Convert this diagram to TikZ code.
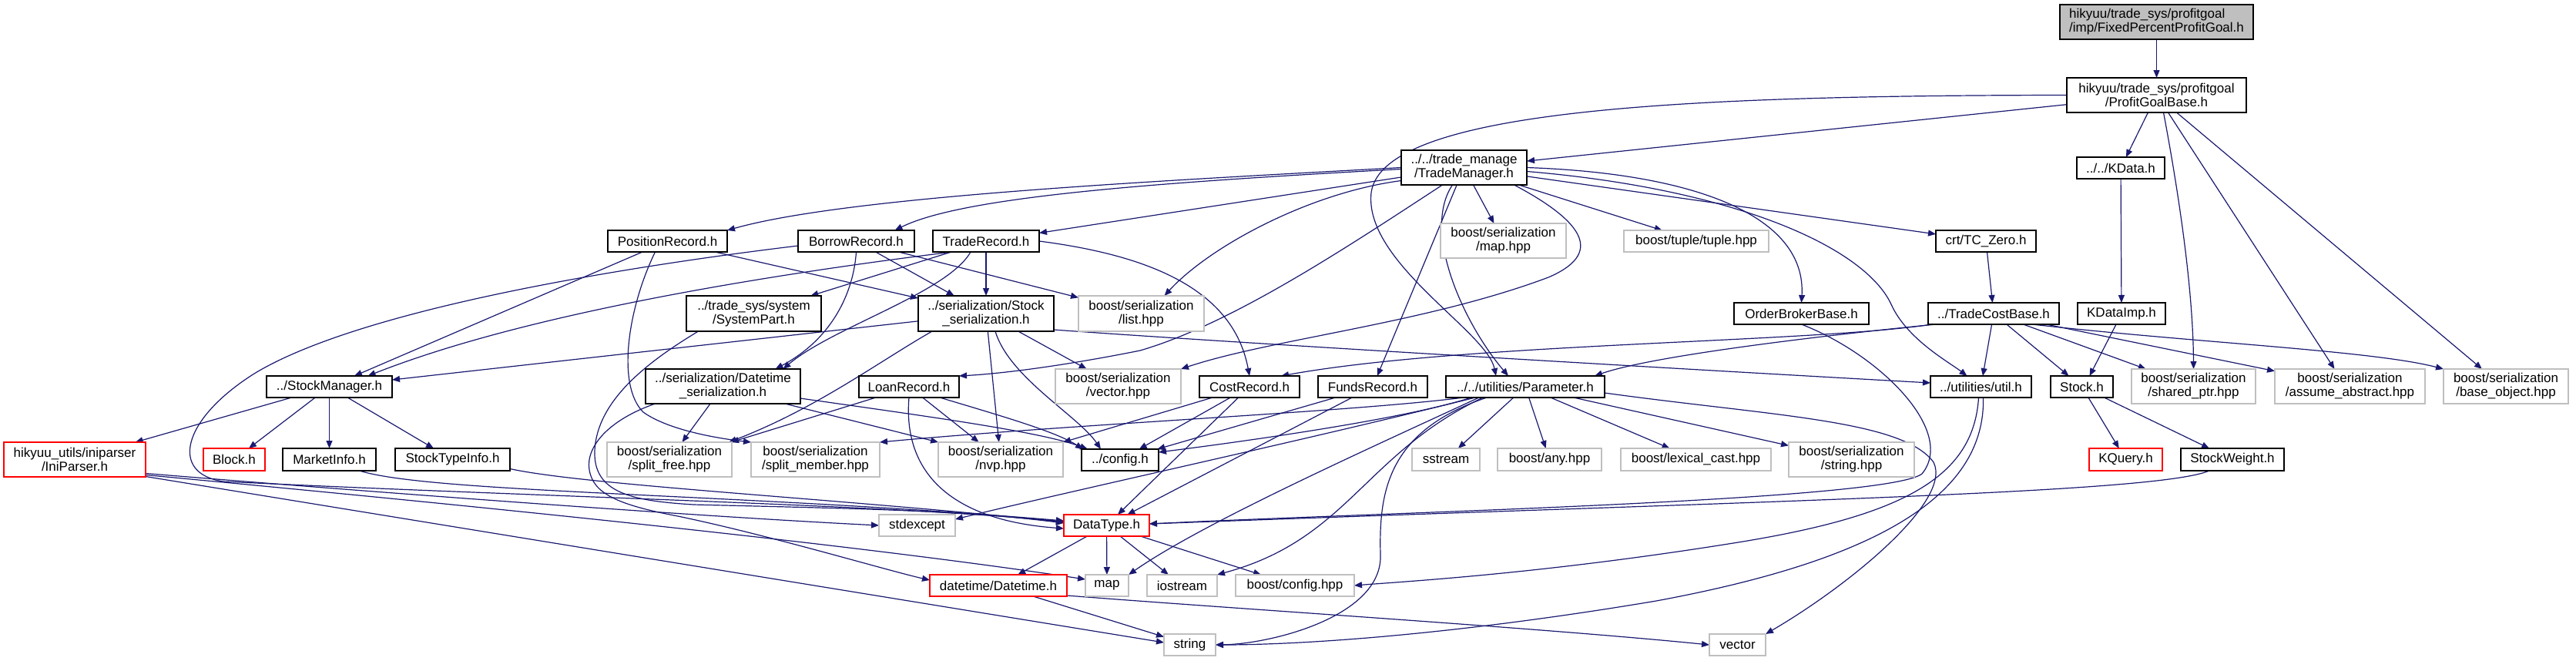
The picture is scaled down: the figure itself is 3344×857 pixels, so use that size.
\documentclass[tikz,border=0pt]{standalone}
\usepackage{fontspec}
\setmainfont{Liberation Sans}
\usetikzlibrary{arrows.meta}
\definecolor{edgec}{HTML}{191970}
\definecolor{grayb}{HTML}{BFBFBF}
\pgfdeclarelayer{bg}
\pgfsetlayers{bg,main}
\tikzset{
  sz/.style 2 args={minimum width=#1pt, minimum height=#2pt},
  base/.style={rectangle, inner sep=0pt, outer sep=0pt, font=\fontsize{17}{18}\selectfont, align=center, fill=white},
  nb/.style={base, draw=black, line width=1.3pt},
  gb/.style={base, draw=grayb, line width=1.1pt},
  rb/.style={base, draw=red, line width=1.1pt},
  edg/.style={draw=edgec, line width=1.2pt, -{Triangle[length=10pt,width=8pt]}},
}
\begin{document}
\begin{tikzpicture}[x=1pt,y=-1pt]
\useasboundingbox (0,0) rectangle (3344,857);
% ---------- nodes ----------
\node[nb, fill=grayb, align=left, sz={251}{45}] (root) at (2799.5,28.5) {hikyuu/trade\_sys/profitgoal\\/imp/FixedPercentProfitGoal.h};
\node[nb, sz={233}{45}] (pgb) at (2799.5,123.5) {hikyuu/trade\_sys/profitgoal\\/ProfitGoalBase.h};
\node[nb, sz={114}{28}] (kdata) at (2753,218) {../../KData.h};
\node[nb, sz={130}{28}] (tczero) at (2578,313) {crt/TC\_Zero.h};
\node[nb, sz={170}{28}] (tcb) at (2588,407) {../TradeCostBase.h};
\node[nb, sz={114}{28}] (kdataimp) at (2754,407) {KDataImp.h};
\node[nb, sz={163}{45}] (tm) at (1900.5,217.5) {../../trade\_manage\\/TradeManager.h};
\node[gb, sz={163}{45}] (maphpp) at (1951.5,312.5) {boost/serialization\\/map.hpp};
\node[gb, sz={188}{28}] (tuple) at (2202,313) {boost/tuple/tuple.hpp};
\node[nb, sz={175}{28}] (obb) at (2338.5,407) {OrderBrokerBase.h};
\node[nb, sz={155}{28}] (posrec) at (866.5,313) {PositionRecord.h};
\node[nb, sz={151}{28}] (borrow) at (1111.5,313) {BorrowRecord.h};
\node[nb, sz={138}{28}] (traderec) at (1280,313) {TradeRecord.h};
\node[nb, sz={175}{46}] (syspart) at (978.5,407) {../trade\_sys/system\\/SystemPart.h};
\node[nb, sz={176}{46}] (stockser) at (1280,407) {../serialization/Stock\\\_serialization.h};
\node[gb, sz={163}{46}] (listhpp) at (1481.5,407) {boost/serialization\\/list.hpp};
\node[nb, sz={163}{28}] (stockmgr) at (427.5,502) {../StockManager.h};
\node[nb, sz={201}{45}] (dtser) at (938.5,501.5) {../serialization/Datetime\\\_serialization.h};
\node[nb, sz={130}{28}] (loan) at (1180,502) {LoanRecord.h};
\node[gb, sz={163}{45}] (vechpp) at (1451.5,501.5) {boost/serialization\\/vector.hpp};
\node[nb, sz={130}{28}] (cost) at (1622,502) {CostRecord.h};
\node[nb, sz={142}{28}] (funds) at (1782,502) {FundsRecord.h};
\node[nb, sz={206}{28}] (param) at (1980,502) {../../utilities/Parameter.h};
\node[nb, sz={131}{28}] (util) at (2571.5,502) {../utilities/util.h};
\node[nb, sz={81}{28}] (stock) at (2702.5,502) {Stock.h};
\node[gb, sz={161}{45}] (sharedptr) at (2847.5,501.5) {boost/serialization\\/shared\_ptr.hpp};
\node[gb, sz={195}{45}] (assume) at (3050.5,501.5) {boost/serialization\\/assume\_abstract.hpp};
\node[gb, sz={162}{45}] (baseobj) at (3253,501.5) {boost/serialization\\/base\_object.hpp};
\node[rb, sz={184}{45}] (ini) at (97,596.5) {hikyuu\_utils/iniparser\\/IniParser.h};
\node[rb, sz={80}{29}] (block) at (304,596.5) {Block.h};
\node[nb, sz={121}{29}] (market) at (427.5,596.5) {MarketInfo.h};
\node[nb, sz={149}{29}] (stocktype) at (587.5,596.5) {StockTypeInfo.h};
\node[gb, sz={162}{45}] (splitfree) at (869,596.5) {boost/serialization\\/split\_free.hpp};
\node[gb, sz={167}{45}] (splitmem) at (1058.5,596.5) {boost/serialization\\/split\_member.hpp};
\node[gb, sz={162}{45}] (nvp) at (1299,596.5) {boost/serialization\\/nvp.hpp};
\node[nb, sz={100}{28}] (config) at (1454,597) {../config.h};
\node[gb, sz={88}{29}] (sstream) at (1877,596.5) {sstream};
\node[gb, sz={135}{29}] (any) at (2011.5,596.5) {boost/any.hpp};
\node[gb, sz={195}{29}] (lexical) at (2201.5,596.5) {boost/lexical\_cast.hpp};
\node[gb, sz={163}{45}] (strhpp) at (2403.5,596.5) {boost/serialization\\/string.hpp};
\node[rb, sz={95}{29}] (kquery) at (2759.5,596.5) {KQuery.h};
\node[nb, sz={134}{29}] (stockweight) at (2898,596.5) {StockWeight.h};
\node[gb, sz={99}{28}] (stdexcept) at (1190.5,682) {stdexcept};
\node[rb, sz={111}{28}] (datatype) at (1436.5,682) {DataType.h};
\node[rb, sz={178}{28}] (datetime) at (1296,760) {datetime/Datetime.h};
\node[gb, sz={56}{28}] (map) at (1437,760) {map};
\node[gb, sz={91}{28}] (iostream) at (1534.5,760) {iostream};
\node[gb, sz={154}{28}] (bconfig) at (1681,760) {boost/config.hpp};
\node[gb, sz={67}{28}] (string) at (1544.5,837) {string};
\node[gb, sz={73}{28}] (vector) at (2255.5,837) {vector};
% ---------- edges ----------
\begin{pgfonlayer}{bg}
\draw[edg] (root) -- (pgb);
\draw[edg] (pgb) -- (kdata);
\draw[edg] (pgb) -- (tm);
\draw[edg] (pgb.west) .. controls (2200,124) and (1795,140) .. (1780,250) .. controls (1770,340) and (1930,430) .. ([xshift=-38pt]param.north);
\draw[edg] ([xshift=9pt]pgb.south) .. controls (2830,260) and (2847,380) .. (sharedptr.north);
\draw[edg] ([xshift=15pt]pgb.south) -- ([xshift=-20pt]assume.north);
\draw[edg] ([xshift=26pt]pgb.south) -- ([xshift=-31pt]baseobj.north);
\draw[edg] (kdata) -- (kdataimp);
\draw[edg] ([xshift=-7pt]kdataimp.south) -- ([xshift=10pt]stock.north);
\draw[edg] (tczero) -- (tcb);
\draw[edg] (tcb) -- (util);
\draw[edg] (tcb) -- (stock);
\draw[edg] (tcb) -- (sharedptr);
\draw[edg] (tcb) -- (assume);
\draw[edg] ([xshift=50pt]tcb.south) .. controls (2850,445) and (3080,455) .. (baseobj.north west);
\draw[edg] ([xshift=-75pt]tcb.south) .. controls (2400,432) and (2150,460) .. ([xshift=90pt]param.north);
\draw[edg] ([xshift=-80pt]tcb.south) .. controls (2350,445) and (1900,445) .. ([xshift=41pt]cost.north);
% TradeManager
\draw[edg] (tm.west) .. controls (1500,235) and (1100,255) .. (posrec.north east);
\draw[edg] ([yshift=-2pt]tm.west) .. controls (1500,237) and (1250,255) .. ([xshift=50pt]borrow.north);
\draw[edg] (tm) -- (traderec);
\draw[edg] ([yshift=-17pt]tm.west) .. controls (1700,250) and (1570,320) .. ([xshift=30pt]listhpp.north);
\draw[edg] ([xshift=-28pt]tm.south) .. controls (1750,320) and (1600,420) .. (1480,455) .. controls (1380,475) and (1300,485) .. (loan.north east);
\draw[edg] (tm) -- (funds);
\draw[edg] ([xshift=-15pt]tm.south) .. controls (1845,300) and (1900,420) .. ([xshift=-22pt]param.north);
\draw[edg] (tm) -- (maphpp);
\draw[edg] (tm) -- (tuple);
\draw[edg] ([xshift=65pt]tm.south) .. controls (2060,290) and (2080,330) .. (2010,360) .. controls (1850,420) and (1650,440) .. (vechpp.north east);
\draw[edg] (tm.east) .. controls (2200,225) and (2345,280) .. (obb.north);
\draw[edg] ([yshift=-5pt]tm.east) .. controls (2250,245) and (2420,320) .. (2455,395) .. controls (2475,440) and (2530,470) .. ([xshift=-18pt]util.north);
\draw[edg] (tm) -- (tczero);
% records
\draw[edg] (traderec.east) .. controls (1480,330) and (1600,370) .. (cost.north);
\draw[edg] (traderec) -- (stockser);
\draw[edg] (traderec) -- (syspart);
\draw[edg] ([xshift=-44pt]traderec.south) .. controls (1050,350) and (700,400) .. ([xshift=50pt]stockmgr.north);
\draw[edg] ([xshift=-20pt]traderec.south) .. controls (1230,380) and (1080,425) .. ([xshift=78pt]dtser.north);
\draw[edg] (borrow.south) .. controls (1108,380) and (1080,440) .. ([xshift=68pt]dtser.north);
\draw[edg] (borrow) -- (stockser);
\draw[edg] (borrow) -- (listhpp);
\draw[edg] ([yshift=-6pt]borrow.west) .. controls (820,345) and (470,400) .. (330,485) .. controls (235,545) and (220,615) .. (290,625) .. controls (700,645) and (1150,655) .. ([yshift=5pt]datatype.west);
\draw[edg] (posrec) -- (stockmgr);
\draw[edg] (posrec) -- (stockser);
\draw[edg] ([xshift=-16pt]posrec.south) .. controls (815,400) and (800,500) .. (835,535) .. controls (870,560) and (940,570) .. (splitmem.north west);
\draw[edg] ([xshift=-72pt]syspart.south) .. controls (840,470) and (775,520) .. (772,585) .. controls (770,640) and (820,650) .. (900,655) .. controls (1100,660) and (1250,662) .. ([yshift=3pt]datatype.west);
\draw[edg] ([xshift=-88pt]dtser.south) .. controls (790,545) and (760,580) .. (765,610) .. controls (770,640) and (800,655) .. (880,670) .. controls (1000,695) and (1150,740) .. ([yshift=7pt]datetime.west);
\draw[edg] (stockser) -- (stockmgr);
\draw[edg] ([xshift=-70pt]stockser.south) .. controls (1140,470) and (1060,530) .. ([xshift=-4pt]splitfree.north east);
\draw[edg] (stockser) -- (nvp);
\draw[edg] ([xshift=12pt]stockser.south) .. controls (1310,490) and (1400,540) .. ([xshift=-25pt]config.north);
\draw[edg] (stockser) -- (vechpp);
\draw[edg] ([yshift=-21pt]stockser.east) .. controls (1600,445) and (2200,480) .. ([yshift=5pt]util.west);
\draw[edg] (dtser) -- (splitfree);
\draw[edg] ([xshift=-20pt]dtser.south east) -- (nvp.north west);
\draw[edg] ([yshift=7pt]dtser.south east) .. controls (1200,540) and (1350,560) .. ([xshift=8pt]config.north west);
\draw[edg] ([xshift=-43pt]loan.south) -- ([xshift=-1pt]splitfree.north east);
\draw[edg] (loan) -- (nvp);
\draw[edg] ([xshift=40pt]loan.south) .. controls (1300,540) and (1370,560) .. ([xshift=2pt]config.north west);
\draw[edg] (loan.south) .. controls (1172,610) and (1230,675) .. ([yshift=-4pt]datatype.west);
\draw[edg] ([xshift=-48pt]cost.south) -- (nvp.north east);
\draw[edg] (cost) -- (config);
\draw[edg] (cost) -- (datatype);
\draw[edg] (funds) -- (config);
\draw[edg] (funds) -- (datatype);
% Parameter
\draw[edg] (param) -- (sstream);
\draw[edg] (param) -- (any);
\draw[edg] (param) -- (lexical);
\draw[edg] (param) -- (strhpp);
\draw[edg] ([yshift=-8pt]param.east) .. controls (2300,540) and (2470,545) .. (2510,600) .. controls (2535,650) and (2400,760) .. (vector.north east);
\draw[edg] ([xshift=-70pt]param.south) .. controls (1820,545) and (1600,575) .. ([yshift=10pt]config.east);
\draw[edg] ([xshift=-80pt]param.south) .. controls (1750,535) and (1400,550) .. (splitmem.north east);
\draw[edg] ([xshift=-65pt]param.south) .. controls (1700,570) and (1400,635) .. ([yshift=8pt]stdexcept.east);
\draw[edg] ([xshift=-60pt]param.south) .. controls (1760,590) and (1560,680) .. (map.north east);
\draw[edg] ([xshift=-55pt]param.south) .. controls (1770,590) and (1750,700) .. (iostream.north east);
\draw[edg] ([xshift=-50pt]param.south) .. controls (1800,560) and (1790,640) .. (1792,720) .. controls (1795,800) and (1650,836) .. (string.east);
% others
\draw[edg] (obb.south) .. controls (2440,460) and (2540,560) .. (2495,615) .. controls (2450,650) and (1800,665) .. ([yshift=2pt]datatype.east);
\draw[edg] ([xshift=-30pt]stockweight.south) .. controls (2800,640) and (2300,650) .. ([yshift=2pt]datatype.east);
\draw[edg] (stock) -- (kquery);
\draw[edg] (stock) -- (stockweight);
\draw[edg] ([xshift=-3pt]util.south) .. controls (2562,620) and (2470,670) .. (2250,705) .. controls (2000,745) and (1820,755) .. (bconfig.east);
\draw[edg] ([xshift=3pt]util.south) .. controls (2578,650) and (2420,730) .. (2150,780) .. controls (1900,822) and (1700,837) .. (string.east);
\draw[edg] (stockmgr) -- (ini);
\draw[edg] (stockmgr) -- (block);
\draw[edg] (stockmgr) -- (market);
\draw[edg] (stockmgr) -- (stocktype);
\draw[edg] ([xshift=39pt]market.south) .. controls (560,640) and (950,640) .. ([yshift=6pt]datatype.west);
\draw[edg] ([yshift=-12pt]stocktype.east) .. controls (760,630) and (1100,648) .. ([yshift=4pt]datatype.west);
\draw[edg] ([yshift=-18pt]ini.east) .. controls (500,640) and (900,670) .. (stdexcept.west);
\draw[edg] ([yshift=-20pt]ini.east) .. controls (600,655) and (1100,705) .. ([yshift=8pt]map.west);
\draw[edg] ([yshift=-22pt]ini.east) -- ([yshift=3pt]string.west);
\draw[edg] (datatype) -- (datetime);
\draw[edg] (datatype) -- (map);
\draw[edg] (datatype) -- (iostream);
\draw[edg] (datatype) -- (bconfig);
\draw[edg] (datetime) -- (string);
\draw[edg] ([yshift=-13pt]datetime.east) .. controls (1600,790) and (2000,815) .. (vector.west);
\end{pgfonlayer}
\end{tikzpicture}
\end{document}
